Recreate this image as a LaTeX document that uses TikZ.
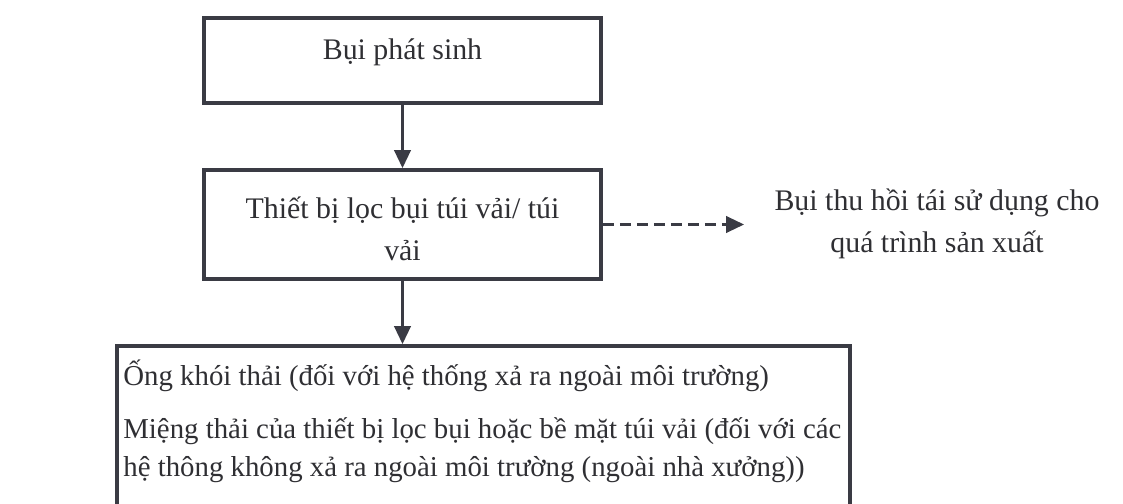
\documentclass[tikz,border=0pt]{standalone}
\usepackage{fontspec}
\setmainfont{Liberation Serif}
\usepackage{xcolor}
\usetikzlibrary{arrows.meta, positioning}
\definecolor{ink}{HTML}{3A3B44}
\definecolor{txt}{HTML}{2F2F33}

\begin{document}
\begin{tikzpicture}[
    every node/.style={font=\fontsize{17}{24}\selectfont, text=txt},
    stage/.style={draw=ink, line width=2pt, rectangle, inner sep=0pt},
    stagetext/.style={anchor=base, align=center, inner sep=0pt},
    notetext/.style={anchor=base west, align=left, inner sep=0pt,
        font=\fontsize{16.4}{21.5}\selectfont},
    flow/.style={draw=ink, line width=2pt,
        -{Triangle[length=0.36cm, width=0.32cm]}},
    side/.style={flow, dash pattern=on 0.22cm off 0.12cm},
]

\path[use as bounding box, clip] (0,0) rectangle (22.46,-10.08);

\def\midx{8.05}

% -- boxes (multi-line text sits on the baseline of its last line) --
\node[stage, minimum width=7.94cm, minimum height=1.70cm] (dust) at (\midx,-1.21) {};
\node[stagetext] (dusttxt) at (\midx,-1.20) {Bụi phát sinh};

\node[stage, minimum width=7.94cm, minimum height=2.18cm] (filt) at (\midx,-4.49) {};
\node[stagetext] (filttxt) at (\midx,-5.22) {Thiết bị lọc bụi túi vải/ túi\\vải};

\node[stage, minimum width=14.66cm, minimum height=3.68cm] (emis) at (9.67,-8.76) {};
\node[notetext] (stack) at (2.46,-7.70) {Ống khói thải (đối với hệ thống xả ra ngoài môi trường)};
\node[notetext] (mouth) at (2.46,-9.52)
    {Miệng thải của thiết bị lọc bụi hoặc bề mặt túi vải (đối với các\\
     hệ thông không xả ra ngoài môi trường (ngoài nhà xưởng))};

% recovered dust, off to the side
\node[align=center, inner sep=0pt] (reuse) at (18.74,-4.48)
    {Bụi thu hồi tái sử dụng cho\\quá trình sản xuất};

% -- connectors --
\draw[flow] (dust) -- (filt);
\draw[flow] (filt.south) -- (filt.south |- emis.north);
\draw[side, shorten >=0.6cm] (filt.east) -- (filt.east -| reuse.west);

\end{tikzpicture}
\end{document}
